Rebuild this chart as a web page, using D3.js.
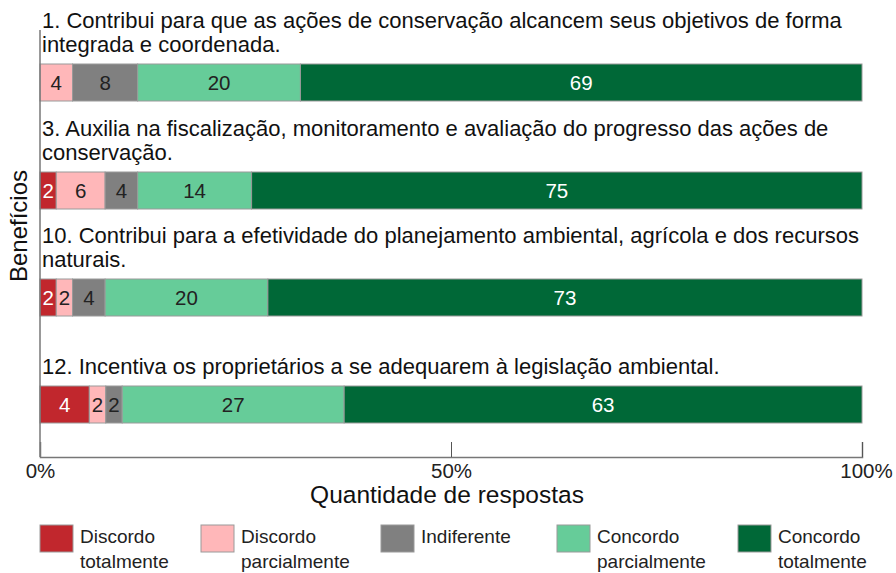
<!DOCTYPE html>
<html>
<head>
<meta charset="utf-8">
<script src="https://cdn.jsdelivr.net/npm/d3@7"></script>
<style>
  body { margin: 0; background: #fff; }
  text { font-family: "Liberation Sans", Arial, sans-serif; }
</style>
</head>
<body>
<div class="chart"></div>
<script>
// categories (benefits), wrapped as in the original
var benefits = [
  ["1. Contribui para que as ações de conservação alcancem seus objetivos de forma", "integrada e coordenada."],
  ["3. Auxilia na fiscalização, monitoramento e avaliação do progresso das ações de", "conservação."],
  ["10. Contribui para a efetividade do planejamento ambiental, agrícola e dos recursos", "naturais."],
  ["12. Incentiva os proprietários a se adequarem à legislação ambiental."]
];
var responses = ["Discordo totalmente", "Discordo parcialmente", "Indiferente", "Concordo parcialmente", "Concordo totalmente"];
var colors = ["#c1272d", "#ffb7b9", "#808080", "#66cc99", "#006837"];
var textColors = ["#fff", "#222", "#222", "#222", "#fff"];

// bar shares per response
var discTotal = [0, 2, 2, 6];
var discParc = [4, 6, 2, 2];
var indif = [8, 4, 4, 2];
var concParc = [20, 14, 20, 27];
var concTotal = [69, 75, 73, 63];
// numbers printed inside the segments
var labels = [
  ["", "4", "8", "20", "69"],
  ["2", "6", "4", "14", "75"],
  ["2", "2", "4", "20", "73"],
  ["4", "2", "2", "27", "63"]
];
var xTicks = [0, 50, 100];

var w = 896, h = 573;
var svg = d3.select(".chart").append("svg").attr("width", w).attr("height", h);

var x = d3.scaleLinear().domain([0, 100]).range([40, 862]);
var barTop = [64, 172, 279, 386];
var barH = 37;
var axisY = 457;

var series = [discTotal, discParc, indif, concParc, concTotal];

benefits.forEach(function(lines, i) {
  var vals = series.map(function(s) { return s[i]; });
  var total = d3.sum(vals);
  var acc = 0;
  var g = svg.append("g");
  // title text
  lines.forEach(function(l, j) {
    g.append("text")
      .attr("x", 42)
      .attr("y", barTop[i] - 12 - (lines.length - 1 - j) * 24)
      .attr("font-size", 22)
      .attr("fill", "#111")
      .text(l);
  });
  vals.forEach(function(v, k) {
    var x0 = x(acc / total * 100);
    acc += v;
    var x1 = x(acc / total * 100);
    if (v <= 0) return;
    g.append("rect")
      .attr("x", x0).attr("y", barTop[i])
      .attr("width", x1 - x0).attr("height", barH)
      .attr("fill", colors[k])
      .attr("stroke", "#9a9a9a").attr("stroke-width", 1);
    g.append("text")
      .attr("x", (x0 + x1) / 2)
      .attr("y", barTop[i] + barH / 2 + 7.5)
      .attr("text-anchor", "middle")
      .attr("font-size", 20.5)
      .attr("fill", textColors[k])
      .text(labels[i][k]);
  });
});

// axes
var xAxis = d3.axisBottom(x).tickValues(xTicks).tickSize(-15).tickPadding(0).tickFormat(function(d) { return d + "%"; });
var ax = svg.append("g").attr("transform", "translate(0," + axisY + ")").call(xAxis);
ax.select(".domain").attr("stroke", "#777").attr("stroke-width", 1.5);
ax.selectAll(".tick line").attr("stroke", "#555");
ax.selectAll(".tick text").attr("font-size", 20.5).attr("fill", "#222")
  .attr("y", 21).attr("dy", 0)
  .attr("font-family", "Liberation Sans, Arial, sans-serif");
ax.selectAll(".tick").filter(function(d) { return d == 0; }).select("line").remove();
ax.selectAll(".tick").filter(function(d) { return d == 100; }).select("text").attr("dx", 4);

svg.append("line")
  .attr("x1", 40).attr("x2", 40).attr("y1", 30).attr("y2", axisY)
  .attr("stroke", "#777").attr("stroke-width", 1.5);

svg.append("text")
  .attr("x", 447).attr("y", 503)
  .attr("text-anchor", "middle").attr("font-size", 24.5).attr("fill", "#111")
  .text("Quantidade de respostas");

svg.append("text")
  .attr("transform", "translate(27,226) rotate(-90)")
  .attr("text-anchor", "middle").attr("font-size", 24).attr("fill", "#111")
  .text("Benefícios");

// legend
var legX = [40, 201, 381, 557, 738];
responses.forEach(function(r, k) {
  var lg = svg.append("g").attr("transform", "translate(" + legX[k] + ",525)");
  lg.append("rect").attr("width", 33).attr("height", 27)
    .attr("fill", colors[k]).attr("stroke", "#9a9a9a");
  var words = k == 2 ? [r] : r.split(" ");
  words.forEach(function(wd, j) {
    lg.append("text").attr("x", 40).attr("y", 18 + j * 25)
      .attr("font-size", 19).attr("fill", "#222").text(wd);
  });
});
</script>
</body>
</html>
